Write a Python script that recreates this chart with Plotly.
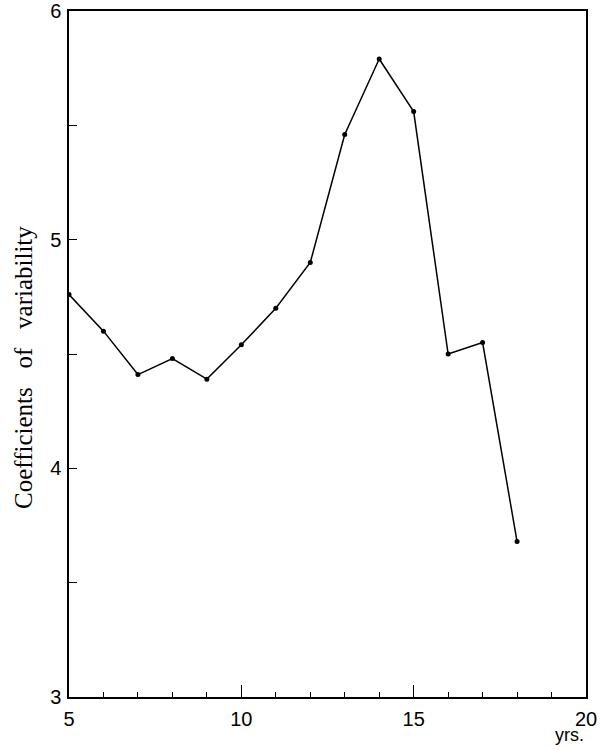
import plotly.graph_objects as go

ages = [5, 6, 7, 8, 9, 10, 11, 12, 13, 14, 15, 16, 17, 18]
coef = [4.76, 4.60, 4.41, 4.48, 4.39, 4.54, 4.70, 4.90, 5.46, 5.79, 5.56, 4.50, 4.55, 3.68]

y_tickvals = [3, 3.5, 4, 4.5, 5, 5.5, 6]
y_ticktext = ["3", "", "4", "", "5", "", "6"]
x_tickvals = [5, 10, 15, 20]
x_ticktext = ["5", "10", "15", "20"]

fig = go.Figure()
fig.add_trace(go.Scatter(
    x=ages, y=coef, mode="lines+markers",
    line=dict(color="black", width=1.5),
    marker=dict(color="black", size=5),
    showlegend=False, hoverinfo="skip",
))

fig.update_layout(
    width=600, height=750,
    margin=dict(l=69, r=14, t=11, b=53),
    paper_bgcolor="white", plot_bgcolor="white",
    font=dict(family="Liberation Sans", size=20, color="black"),
)
fig.update_xaxes(
    range=[5, 20], tickvals=x_tickvals, ticktext=x_ticktext,
    ticks="inside", ticklen=12, tickwidth=1.2, tickcolor="black",
    minor=dict(dtick=1, tick0=5, ticks="inside", ticklen=5, tickwidth=1, tickcolor="black"),
    showline=True, linecolor="black", linewidth=1.5, mirror=True,
    showgrid=False, zeroline=False, ticklabelstandoff=3, automargin=False,
)
fig.update_yaxes(
    range=[3, 6], tickvals=y_tickvals, ticktext=y_ticktext,
    ticks="inside", ticklen=8, tickwidth=1, tickcolor="black",
    showline=True, linecolor="black", linewidth=1.5, mirror=True,
    showgrid=False, zeroline=False, ticklabelstandoff=2, automargin=False,
)
fig.add_annotation(
    text="Coefficients\u2002 of\u2002 variability", xref="paper", yref="paper",
    x=-0.087, y=0.4796, xanchor="center", yanchor="middle",
    textangle=-90, showarrow=False,
    font=dict(family="Liberation Serif", size=25, color="black"),
)
fig.add_annotation(
    text="yrs.", xref="paper", yref="paper",
    x=0.969, y=-0.0554, xanchor="center", yanchor="middle",
    showarrow=False, font=dict(family="Liberation Sans", size=18, color="black"),
)
fig.write_html("out.html", config={"displayModeBar": False},
               post_script="document.body.style.margin='0px';")
